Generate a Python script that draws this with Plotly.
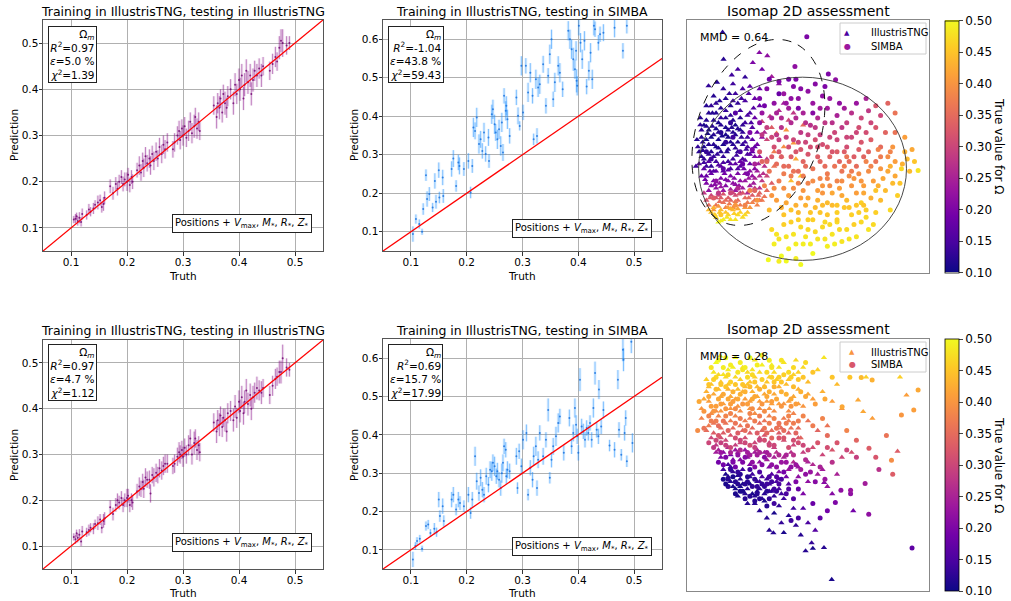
import plotly.graph_objects as go
import numpy as np

# ---------------- DATA ----------------
TNG_truth = [0.105,0.108,0.11,0.112,0.115,0.118,0.12,0.128,0.132,0.135,0.14,0.143,0.148,0.152,0.155,0.158,0.16,
             0.17,0.175,0.18,0.183,0.186,0.19,0.193,0.196,0.2,0.202,0.205,0.208,0.21,
             0.218,0.222,0.225,0.228,0.23,0.233,0.236,0.24,0.242,0.245,0.248,0.252,0.255,0.258,0.262,0.265,0.268,0.272,
             0.282,0.285,0.29,0.293,0.295,0.298,0.3,0.303,0.306,0.31,0.313,0.316,0.32,0.322,0.325,0.328,0.33,
             0.355,0.36,0.362,0.365,0.367,0.37,0.372,0.375,0.378,0.38,
             0.385,0.39,0.393,0.396,0.4,0.402,0.405,0.408,0.41,0.413,0.416,0.42,0.422,0.425,0.428,0.432,0.436,0.44,0.443,
             0.455,0.46,0.465,0.468,0.472,0.475,0.478,0.485,0.49]
A_pred = [0.118,0.12,0.125,0.115,0.122,0.113,0.13,0.128,0.14,0.135,0.142,0.15,0.155,0.16,0.145,0.152,0.165,
          0.19,0.175,0.195,0.185,0.2,0.21,0.195,0.205,0.2,0.215,0.193,0.21,0.2,
          0.225,0.235,0.22,0.245,0.23,0.255,0.24,0.25,0.235,0.26,0.245,0.265,0.25,0.275,0.26,0.28,0.27,0.285,
          0.27,0.285,0.3,0.31,0.29,0.315,0.3,0.32,0.295,0.31,0.33,0.305,0.32,0.34,0.315,0.33,0.31,
          0.365,0.34,0.37,0.36,0.38,0.35,0.39,0.37,0.36,0.385,
          0.4,0.37,0.41,0.39,0.42,0.4,0.43,0.38,0.41,0.44,0.415,0.43,0.39,0.42,0.44,0.43,0.445,0.43,0.45,
          0.44,0.455,0.47,0.46,0.49,0.505,0.5,0.495,0.5]
A_err = [0.008,0.01,0.008,0.01,0.012,0.01,0.012,0.01,0.012,0.01,0.012,0.01,0.015,0.012,0.012,0.015,0.014,
         0.015,0.014,0.015,0.015,0.015,0.015,0.016,0.015,0.02,0.015,0.016,0.015,0.016,
         0.016,0.02,0.018,0.018,0.02,0.02,0.018,0.02,0.02,0.018,0.02,0.02,0.018,0.02,0.02,0.02,0.02,0.02,
         0.018,0.02,0.02,0.022,0.02,0.02,0.022,0.02,0.02,0.022,0.02,0.022,0.025,0.02,0.022,0.02,0.02,
         0.02,0.025,0.022,0.025,0.02,0.022,0.02,0.025,0.022,0.022,
         0.022,0.025,0.025,0.022,0.025,0.025,0.025,0.025,0.025,0.025,0.025,0.025,0.025,0.025,0.022,0.025,0.022,0.025,0.02,
         0.02,0.022,0.022,0.02,0.025,0.025,0.03,0.02,0.015]
D_pred = [0.12,0.115,0.128,0.118,0.125,0.11,0.132,0.13,0.135,0.14,0.138,0.148,0.15,0.158,0.14,0.155,0.16,
          0.185,0.17,0.19,0.2,0.195,0.205,0.19,0.2,0.205,0.21,0.19,0.2,0.195,
          0.22,0.23,0.225,0.24,0.225,0.25,0.245,0.245,0.215,0.255,0.25,0.26,0.255,0.27,0.265,0.275,0.28,0.28,
          0.275,0.28,0.295,0.305,0.3,0.31,0.295,0.315,0.3,0.32,0.335,0.3,0.325,0.335,0.31,0.32,0.305,
          0.37,0.35,0.375,0.365,0.385,0.36,0.38,0.375,0.35,0.39,
          0.395,0.375,0.405,0.38,0.415,0.395,0.425,0.39,0.415,0.44,0.41,0.43,0.4,0.425,0.435,0.445,0.44,0.435,0.445,
          0.43,0.45,0.465,0.47,0.48,0.48,0.51,0.49,0.485]
D_err = A_err

B_truth = [0.1036,0.109,0.115,0.12,0.122,0.127,0.129,0.133,0.139,0.143,0.145,0.15,0.151,0.157,0.158,0.173,0.176,0.181,
           0.185,0.187,0.195,0.203,0.207,0.21,0.212,0.215,0.218,0.222,0.225,0.228,0.231,0.234,0.239,0.24,0.245,0.247,
           0.25,0.252,0.255,0.258,0.261,0.263,0.265,0.267,0.27,0.271,0.273,0.277,0.289,0.292,0.295,0.298,0.301,0.306,
           0.31,0.314,0.318,0.32,0.324,0.326,0.328,0.331,0.337,0.342,0.346,0.349,0.352,0.355,0.358,0.364,0.367,0.372,
           0.382,0.385,0.388,0.391,0.394,0.396,0.397,0.398,0.401,0.404,0.407,0.411,0.415,0.419,0.422,0.425,0.428,0.43,
           0.436,0.439,0.445,0.465,0.48,0.487]
B_pred = [0.094,0.133,0.12,0.1,0.159,0.247,0.185,0.198,0.163,0.232,0.178,0.26,0.189,0.241,0.193,0.263,0.29,0.219,
          0.28,0.271,0.263,0.284,0.202,0.271,0.371,0.362,0.397,0.328,0.34,0.31,0.358,0.302,0.345,0.284,0.405,0.418,
          0.379,0.358,0.34,0.366,0.323,0.384,0.306,0.453,0.414,0.427,0.392,0.349,0.449,0.401,0.375,0.531,0.41,0.531,
          0.462,0.513,0.453,0.34,0.496,0.349,0.475,0.483,0.535,0.427,0.505,0.561,0.6,0.444,0.488,0.531,0.513,0.47,
          0.622,0.6,0.574,0.548,0.522,0.57,0.492,0.479,0.635,0.591,0.548,0.596,0.477,0.518,0.565,0.496,0.635,0.626,
          0.591,0.613,0.617,0.63,0.57,0.635]
B_err = [0.02,0.012,0.012,0.008,0.015,0.015,0.02,0.018,0.012,0.02,0.018,0.02,0.015,0.02,0.018,0.02,0.022,0.015,
         0.02,0.022,0.018,0.02,0.015,0.018,0.025,0.022,0.025,0.025,0.022,0.02,0.025,0.02,0.022,0.018,0.025,0.025,
         0.025,0.022,0.025,0.025,0.025,0.025,0.022,0.02,0.025,0.025,0.025,0.02,0.02,0.022,0.012,0.025,0.02,0.02,
         0.025,0.025,0.02,0.015,0.025,0.02,0.025,0.025,0.022,0.02,0.02,0.025,0.025,0.02,0.025,0.025,0.025,0.02,
         0.025,0.025,0.025,0.03,0.025,0.025,0.03,0.025,0.025,0.025,0.025,0.025,0.02,0.025,0.025,0.025,0.025,0.02,
         0.02,0.02,0.022,0.025,0.02,0.02]

E_truth = [0.1036,0.108,0.111,0.116,0.12,0.127,0.131,0.135,0.142,0.146,0.15,0.152,0.157,0.159,0.173,0.176,0.181,0.185,
           0.188,0.195,0.203,0.207,0.21,0.215,0.218,0.222,0.225,0.228,0.231,0.235,0.239,0.242,0.245,0.247,0.25,0.253,
           0.255,0.258,0.261,0.263,0.265,0.267,0.27,0.271,0.273,0.277,0.289,0.291,0.294,0.298,0.301,0.307,0.31,0.314,
           0.318,0.32,0.324,0.326,0.328,0.331,0.337,0.342,0.346,0.349,0.352,0.355,0.36,0.364,0.367,0.374,0.384,0.388,
           0.391,0.394,0.396,0.398,0.4,0.403,0.406,0.409,0.412,0.415,0.418,0.421,0.424,0.427,0.43,0.433,0.436,0.437,
           0.441,0.445,0.456,0.465,0.471,0.473,0.477,0.48,0.481,0.483,0.485,0.487,0.495,0.497]
E_pred = [0.075,0.11,0.123,0.129,0.103,0.162,0.166,0.144,0.155,0.146,0.231,0.188,0.214,0.175,0.231,0.244,0.205,0.231,
          0.222,0.214,0.244,0.196,0.231,0.344,0.279,0.248,0.288,0.257,0.244,0.292,0.27,0.309,0.305,0.327,0.318,0.292,
          0.305,0.283,0.261,0.3,0.327,0.37,0.361,0.292,0.309,0.305,0.344,0.261,0.357,0.318,0.387,0.405,0.244,0.314,
          0.283,0.344,0.37,0.261,0.335,0.405,0.344,0.387,0.465,0.288,0.335,0.37,0.396,0.431,0.448,0.353,0.444,0.37,
          0.405,0.47,0.426,0.396,0.353,0.544,0.422,0.409,0.387,0.418,0.405,0.431,0.387,0.47,0.561,0.413,0.396,0.518,
          0.422,0.465,0.372,0.361,0.544,0.413,0.348,0.622,0.596,0.405,0.444,0.331,0.643,0.379]
E_err = [0.02,0.01,0.01,0.01,0.008,0.012,0.012,0.01,0.015,0.012,0.02,0.015,0.02,0.015,0.02,0.02,0.015,0.02,
         0.018,0.015,0.02,0.015,0.02,0.025,0.022,0.02,0.022,0.02,0.02,0.022,0.02,0.022,0.025,0.022,0.025,0.02,
         0.022,0.02,0.02,0.025,0.022,0.02,0.02,0.02,0.022,0.02,0.022,0.015,0.02,0.02,0.025,0.022,0.015,0.02,
         0.02,0.025,0.025,0.02,0.022,0.02,0.022,0.02,0.03,0.015,0.02,0.022,0.025,0.025,0.02,0.02,0.022,0.02,
         0.022,0.025,0.025,0.02,0.02,0.03,0.02,0.02,0.02,0.02,0.02,0.02,0.02,0.025,0.03,0.02,0.02,0.025,
         0.02,0.022,0.015,0.02,0.025,0.02,0.015,0.03,0.03,0.02,0.02,0.015,0.03,0.025]

# Isomap embeddings (arbitrary units): (x, y, true Omega_m)
TOP_TNG = [
    (14.7,99.3,.12),(15.1,88.2,.12),(27.2,86.8,.20),(29.9,90.9,.21),(33.2,89.6,.22),(8.9,77.2,.13),(12.4,78.7,.12),
    (18.5,81.7,.14),(24,80.8,.13),(5.5,61.1,.13),(4.1,55,.12),(3.7,44,.14),(21,84,.15),(31,84,.19),(26,77,.17),
    (35,81,.24),(38,78,.22),(30,76,.18),
    (6,48,.12),(7,52,.11),(6,56,.12),(8,44,.14),(9,59,.11),(10,50,.12),(11,63,.12),(12,46,.14),(13,55,.11),(14,68,.12),
    (15,42,.16),(16,60,.11),(17,51,.12),(18,65,.13),(19,47,.14),(20,57,.12),(21,70,.13),(22,44,.16),(23,53,.13),
    (24,62,.14),(25,49,.15),(26,66,.15),(9,66,.12),(12,70,.13),(16,72,.12),(20,74,.14),(7,61,.11),(11,57,.12),
    (15,48,.13),(19,53,.12),(23,58,.13),(14,50,.12),(18,43,.15),(21,50,.13),(25,56,.14),(10,44,.13),(13,62,.11),
    (17,56,.11),(22,64,.12),(8,55,.11),(27,60,.16),(24,71,.15),(28,52,.17),(12,52,.11),(16,64,.12),(20,61,.11),
    (5,50,.12),(26,45,.18),(18,69,.12),(10,69,.13),(7,47,.13),(9,53,.12),(11,48,.13),(13,58,.12),(15,53,.11),
    (17,46,.14),(19,58,.12),(21,54,.12),(23,47,.15),(25,52,.15),(27,55,.17),(14,64,.13),(12,66,.12),(8,63,.12),
    (6,59,.13),(16,67,.13),(19,71,.14),(22,67,.14),(28,64,.18),(29,58,.19),(4.5,52,.13),(30,69,.18),
    (6.5,50.5,.12),(8.5,57.5,.11),(10.5,60.5,.12),(12.5,49,.13),(14.5,56.5,.11),(16.5,50,.12),(18.5,60,.12),
    (20.5,48.5,.14),(22.5,56,.13),(24.5,51,.14),(26.5,62,.15),(10.5,66,.12),(13.5,71,.12),(17.5,74,.13),
    (22.5,72,.14),(8,69,.12),(5.5,64,.12),(27.5,68,.16),(25.5,74,.16),(11,73,.12),(15,76,.13),(19,78,.14),
    (23,76,.15),(28,72,.18),
    (7,45.5,.14),(9,49,.13),(11,53,.12),(13,51.5,.12),(15,45.5,.15),(17,59,.12),(19,63,.12),(21,59.5,.12),
    (23,61,.13),(25,65,.15),(27,50,.17),(29,53,.19),(31,56,.22),(6.5,54,.12),(8,60.5,.12),(10,56,.11),
    (12,59.5,.11),(14,61,.12),(16,57,.11),(18,54,.12),(20,51.5,.13),(22,59,.12),(24,54,.14),(26,49,.17),
    (6,40,.18),(8,37,.2),(10,41,.18),(12,35,.22),(14,39,.2),(16,36,.21),(18,40,.2),(20,34,.23),(22,38,.22),(24,41,.21),
    (26,36,.24),(28,39,.25),(30,35,.27),(9,34,.22),(13,33,.24),(17,38,.21),(21,41,.2),(25,33,.26),(29,42,.24),
    (11,38,.2),(15,34,.23),(19,37,.22),(23,35,.24),(27,40,.23),(7,43,.17),(31,38,.28),(32,44,.27),(14,44,.17),
    (22,46,.18),(30,48,.22),(5,45,.16),(9,46,.16),(18,45,.17),(26,42,.22),(33,40,.3),
    (7.5,38.5,.19),(11.5,36.5,.21),(15.5,41,.19),(19.5,39,.21),(23.5,43,.19),(27.5,37,.24),(31.5,41,.27),
    (9.5,42,.18),(13.5,37,.22),(21.5,36,.23),(25.5,39,.23),(29.5,45,.24),(33,47,.28),(12,42,.18),(20,45,.17),
    (28,48,.2),
    (11,42,.16),(13,44.5,.16),(17,42.5,.17),(21,43,.16),(24,46.5,.17),(28,43,.21),(30,40,.26),(8,40,.18),
    (16,38.5,.2),(20,36.5,.22),(24,38,.23),(10,36,.21),(14,35.5,.23),(18,34.5,.25),(22,33,.27),(26,34,.29),
    (28,35,.28),
    (8,30,.32),(10,32,.3),(12,28,.36),(14,31,.33),(16,27,.38),(18,30,.34),(20,32,.31),(22,28,.37),(24,31,.35),
    (26,27,.4),(28,30,.36),(30,33,.34),(11,26,.4),(15,29,.36),(19,27,.39),(23,33,.32),(27,32,.33),(9,28,.35),
    (13,32,.31),(17,31,.33),(21,30,.35),(25,29,.37),(29,28,.38),(31,30,.37),(33,34,.35),(7,33,.28),(35,37,.33),
    (9.5,31,.33),(13.5,29.5,.35),(17.5,28.5,.37),(21.5,32.5,.32),(25.5,31,.35),(29.5,32,.34),(32,31.5,.36),
    (15,32.5,.32),(19,33,.3),(27,29,.38),(30,30,.36),(12,31,.32),(16,30,.35),(20,29.5,.37),(24,27,.41),
    (17,27,.41),(13,27.5,.4),(21,26.5,.42),
    (10,25,.45),(12,23,.47),(14,26,.44),(15,22,.49),(17,24,.46),(19,26,.44),(20,22,.48),(22,25,.46),(11,27,.43),
    (13,21,.5),(16,25,.45),(18,22,.48),(21,24,.47),(23,23,.47),(9,26,.44),(25,25,.45),
    (11.5,24,.46),(13.5,25,.45),(16.5,23,.48),(19.5,24.5,.46),(24,24,.47),(18,26.5,.43),(14,21.5,.49),
    (37,57.7,.38),(41,59,.4),(34.3,64.6,.28),(31,62.5,.3),(44,53.6,.4),(39,48,.42),(36,44,.36),(40,52,.39),
    (35,60,.33),(42,63,.3),(38,67,.26),(33,55,.3),(45,47,.42),(47,40,.45),(43,38,.44),(36,50,.37),(32,58,.26),
    (40,70,.24),(44,66,.28),(48,61,.35),
]
TOP_SIMBA = [
    (49.5,97.5,.2),(44.6,85.2,.22),(58.4,82.1,.2),(61.4,79.7,.22),
    (30,72,.2),(33,76,.21),(36,70,.22),(38,79,.2),(40,74,.23),(42,68,.24),(44,77,.21),(46,72,.22),(48,66,.25),
    (50,75,.22),(52,70,.23),(54,64,.26),(56,73,.22),(58,68,.24),(60,62,.27),(35,64,.25),(39,60,.27),(43,62,.26),
    (47,58,.28),(51,61,.27),(55,57,.29),(59,56,.3),(62,65,.25),(64,60,.28),(34,80,.19),(45,80,.2),(53,78,.21),
    (57,77,.2),(31,66,.23),(41,56,.29),(49,54,.3),(37,57,.28),(32,69,.19),(46,68,.2),(52,66,.21),(38,74,.18),(42,80,.19),
    (31,57,.28),(35,56,.3),(39,64,.26),(45,64,.26),(49,62,.27),(53,60,.28),(57,62,.28),(61,58,.3),(33,60,.29),
    (43,72,.22),(47,76,.21),(55,68,.24),(37,66,.25),(41,70,.23),(59,72,.23),
    (65,68,.24),(68,66,.27),(70,70,.23),(72,64,.3),(75,67,.28),(78,69,.32),(80,65,.3),(66,62,.29),(71,60,.31),
    (76,62,.3),(83,70,.34),(86,66,.36),(63,70,.22),(74,72,.25),
    (30,50,.32),(33,46,.34),(36,52,.31),(39,48,.33),(42,44,.35),(45,50,.32),(48,46,.34),(51,52,.31),(54,48,.33),
    (57,44,.35),(60,50,.32),(63,46,.34),(66,52,.31),(69,48,.33),(72,54,.32),(75,50,.34),(78,46,.36),(34,42,.36),
    (40,41,.37),(46,42,.35),(52,43,.36),(58,41,.37),(64,42,.36),(70,44,.35),(76,55,.33),(62,55,.3),(56,53,.31),
    (44,55,.3),(38,55,.29),(68,56,.3),(80,52,.35),(50,49,.32),
    (31,46,.34),(37,45,.35),(43,48,.33),(49,44,.35),(55,46,.34),(61,44,.36),(67,46,.35),(73,48,.34),(35,48,.33),
    (47,51,.32),(53,55,.31),(59,48,.34),(65,50,.33),(71,51,.33),
    (40,44,.35),(44,42,.36),(48,40,.37),(52,38,.39),(56,36,.4),(60,33,.42),(64,38,.39),(68,42,.37),(72,38,.4),
    (76,44,.38),(80,48,.37),(84,50,.38),(86,46,.41),(90,50,.43),(94,46,.45),(38,50,.32),(42,52,.31),(46,54,.3),
    (50,57,.29),(54,52,.31),(58,52,.32),(62,50,.33),(66,56,.3),(70,58,.3),(74,58,.31),(78,60,.32),(82,58,.34),
    (86,58,.36),
    (62,38,.38),(65,44,.37),(68,36,.4),(71,41,.39),(74,46,.38),(77,38,.41),(80,43,.4),(83,48,.39),(86,40,.42),
    (89,45,.43),(92,42,.44),(64,32,.42),(70,33,.41),(76,31,.43),(82,34,.44),(88,37,.45),(66,48,.36),(79,51,.38),
    (85,52,.4),(90,56,.41),(93,51,.42),(73,36,.41),(81,39,.42),(87,32,.46),(60,28,.44),(67,27,.45),(95.5,42.3,.48),
    (88.6,43,.47),(84,44,.43),(78,34,.45),(72,29,.46),
    (63,35,.41),(69,39,.4),(75,42,.39),(79,36,.43),(85,37,.44),(83,42,.42),(91,47,.44),(67,40,.39),(73,33,.42),
    (32,36,.38),(35,32,.4),(38,38,.37),(41,29,.42),(44,35,.39),(47,31,.41),(50,37,.38),(53,27,.44),(56,33,.4),
    (59,36,.39),(34,26,.44),(40,24,.45),(46,25,.44),(52,22,.46),(58,24,.45),(62,21,.47),(37,30,.41),(43,40,.37),
    (49,28,.43),(55,39,.38),(29,30,.4),(26,34,.38),
    (36,35,.39),(42,32,.41),(48,34,.4),(54,30,.43),(58,29,.44),(39,27,.43),(45,28,.43),(51,25,.45),(57,21,.47),
    (40,35,.39),(46,37,.38),(50,31,.42),(54,34,.41),(58,39,.38),(62,28,.45),(66,30,.44),(70,28,.45),(74,26,.46),
    (62,25,.46),(56,28,.44),(50,22,.46),
    (35,18,.47),(38,14,.48),(40,20,.46),(42,10,.49),(44,16,.48),(46,22,.46),(48,12,.49),(50,18,.47),(52,8,.5),
    (54,14,.48),(56,19,.47),(58,11,.49),(60,16,.48),(62,22,.46),(64,13,.48),(66,18,.47),(68,24,.46),(70,15,.48),
    (72,21,.47),(75,18,.48),(78,25,.46),(36,12,.49),(39,7,.5),(41,5,.5),(45,6,.49),(43,26,.45),(47,3.5,.5),
    (55,25,.45),(65,27,.45),(73,28,.45),(80,30,.44),(77,20,.47),(33.6,5.5,.5),(38,4.8,.49),(84,26,.47),
    (37,16,.48),(41,15,.48),(45,12,.49),(49,15,.48),(53,17,.47),(57,14,.48),(61,12,.49),(63,18,.47),(67,14,.48),
    (51,12,.49),(43,21,.46),(47,19,.47),(59,20,.47),(69,20,.46),(71,25,.46),(74,23,.47),
    (10,47,.14),(14,58,.12),(18,62,.13),(22,50,.15),(25,41,.2),(12,38,.22),(18,33,.3),(24,28,.38),(14,24,.45),
    (28,45,.25),(20,66,.16),(26,58,.2),(30,62,.22),(8,50,.13),(16,54,.13),(28,34,.34),(20,28,.4),(11,31,.33),
    (15,43,.17),(19,56,.14),(23,45,.18),(27,51,.2),(13,33,.28),(21,35,.26),
]
BOT_TNG = [
    (59.8,4.7,.11),(49,16.5,.12),(52,17.5,.11),(56.6,17.8,.12),(34,25,.12),(35.7,23.9,.12),(51.5,19.8,.13),
    (68.7,33,.19),(56.7,44.6,.21),(87,57.5,.33),(90.7,80.6,.41),(72.8,73.8,.42),(76.6,71,.41),(70.7,78.6,.42),
    (88,88,.46),(56.6,96,.48),(13.7,96.7,.48),(74,88,.46),(62,85,.44),
    (30,33,.12),(33,30,.12),(36,32,.11),(39,28,.13),(42,31,.12),(45,27,.13),(47,23,.12),(40,24,.11),(44,34,.14),
    (38,35,.13),(50,28,.15),(53,25,.16),(48,34,.16),(28,36,.12),(32,37,.11),
    (16,48,.11),(18,45,.12),(20,42,.11),(22,46,.12),(24,40,.12),(26,44,.11),(28,39,.12),(30,42,.13),(32,40,.12),
    (34,44,.14),(36,39,.13),(38,42,.15),(19,49,.13),(23,50,.14),(27,48,.14),(31,47,.15),(35,48,.16),(21,39,.11),
    (25,36,.12),(29,45,.13),(17,52,.15),(40,38,.14),(42,44,.16),
    (17,47,.12),(21,47.5,.12),(25,42,.12),(29,41,.12),(33,46,.14),(37,45,.15),(23,44,.11),(27,40,.11),(31,38,.12),
    (35,41,.13),(19,43,.11),(39,40,.14),
    (15,50,.14),(18,51,.14),(22,43,.11),(26,47,.13),(30,45,.14),(34,41,.13),(38,46,.17),(41,47,.19),
    (14,55,.2),(18,56,.19),(22,54,.21),(26,52,.2),(30,53,.22),(34,51,.21),(38,49,.2),(42,50,.23),(46,47,.22),
    (50,45,.22),(54,48,.24),(58,43,.23),(20,58,.23),(28,57,.24),(36,55,.25),(44,53,.26),(52,52,.26),(60,40,.21),
    (48,40,.2),(62,48,.25),
    (15,57,.21),(19,54,.2),(24,58,.23),(32,57,.24),(40,55,.25),(46,51,.23),(50,53,.25),(56,50,.24),(12,57,.24),
    (13,58,.25),(17,59,.26),(21,57,.24),(25,55,.22),(29,58,.26),(33,54,.24),(37,57,.27),(43,57,.27),
    (12,60,.28),(16,62,.3),(20,60,.29),(24,63,.31),(28,61,.3),(32,64,.32),(36,59,.29),(40,62,.31),(44,60,.3),
    (48,57,.29),(52,59,.31),(56,56,.3),(60,58,.32),(64,55,.3),(68,57,.31),(10,63,.3),(42,65,.33),
    (14,63,.31),(18,64,.32),(22,61,.3),(26,65,.33),(30,63,.31),(34,61,.3),(38,65,.33),(46,63,.32),
    (11,65,.33),(15,65,.33),(19,67,.35),(23,66,.34),(27,67,.35),(31,66,.34),(35,66,.35),(39,67,.35),(43,67,.36),
    (8,66,.35),(11,69,.36),(14,67,.35),(18,70,.37),(22,68,.36),(26,71,.37),(30,69,.35),(34,72,.38),(38,68,.36),
    (42,70,.37),(46,67,.35),(50,70,.36),(54,66,.34),(58,68,.36),(6,71,.38),(47,63,.34),
    (9,68,.37),(13,72,.38),(16,69,.36),(20,72,.38),(24,70,.37),(28,73,.39),(32,70,.36),(36,74,.39),(40,71,.37),
    (44,73,.38),
    (10,73,.39),(14,74,.4),(18,75,.4),(22,74,.39),(26,75,.4),(30,78,.41),(34,75,.4),(38,77,.41),(42,74,.39),
    (46,77,.41),
    (6,75,.4),(9,78,.41),(12,74,.39),(15,77,.41),(18,80,.42),(21,76,.4),(24,79,.41),(27,82,.43),(30,75,.39),
    (33,78,.41),(36,81,.42),(40,77,.4),(44,80,.42),(48,76,.4),(52,79,.41),(56,82,.43),(60,78,.41),(64,75,.4),
    (8,82,.43),(38,84,.43),
    (7,79,.42),(11,81,.42),(14,80,.42),(17,83,.43),(20,79,.41),(23,82,.43),(26,78,.41),(29,80,.42),(32,81,.42),
    (35,77,.41),(42,78,.41),(46,83,.43),(50,81,.42),
    (9,84,.44),(13,83,.44),(17,85,.45),(21,83,.44),(25,85,.45),(29,84,.44),(33,86,.45),(37,87,.46),(41,85,.44),
    (8,87,.46),(11,90,.48),(14,86,.45),(17,91,.49),(20,88,.47),(23,92,.48),(26,86,.45),(30,90,.47),(34,88,.46),
    (38,92,.48),(42,87,.45),(46,90,.46),(50,86,.44),(12,94,.5),(28,95,.48),(45,95,.47),(32,84,.44),(24,84,.44),
    (10,85,.45),(13,89,.47),(16,88,.47),(19,92,.49),(22,87,.46),(25,90,.47),(28,88,.46),(31,93,.49),(36,90,.47),
    (40,94,.48),(44,89,.46),(48,92,.47),(54,91,.46),(20,96,.5),(15,89,.48),(27,91,.48),(35,93,.49),
]
BOT_SIMBA = [
    (93,17.7,.17),(4.4,66,.39),(49,94,.47),(79,93,.46),(95.5,82.7,.42),(93.7,74.5,.41),(88.6,72.4,.4),(84.5,53.8,.39),
    (82.4,64,.36),(79.3,50,.27),(75.2,58.7,.33),(73.6,44.2,.24),(75.1,31.6,.22),(67.6,40,.22),(67.6,41.5,.23),
    (63.6,41.5,.22),(61.3,36.4,.2),(64.1,75.8,.42),(67.3,88,.45),(72,87.9,.44),(76.5,86.8,.43),(60,88,.45),
    (66,66,.38),(70,62,.34),(78,55,.32),(85,48,.33),
    (15,46,.11),(17,43,.12),(19,47,.11),(21,44,.12),(23,41,.11),(25,47,.12),(27,43,.13),(29,40,.12),(31,44,.13),
    (33,41,.12),(35,45,.14),(37,41,.13),(39,46,.15),(18,50,.13),(22,48,.12),(26,50,.14),(30,49,.15),(34,47,.15),
    (20,40,.11),(24,38,.12),(28,37,.12),(41,40,.15),(36,36,.14),(44,38,.16),(46,42,.18),(33,35,.12),(52,36,.18),
    (55,30,.17),(58,33,.19),(46,30,.15),(43,29,.14),
    (16,44,.11),(20,45,.12),(24,44,.12),(28,46,.13),(32,43,.13),(36,42,.14),(26,39,.12),(30,38,.12),(38,44,.15),
    (42,42,.16),(22,41,.11),(34,38,.13),
    (17,46,.12),(21,49,.13),(25,45,.12),(29,43,.13),(33,44,.14),(37,47,.16),(40,49,.19),
    (13,53,.19),(16,55,.2),(19,53,.2),(24,55,.21),(27,53,.22),(32,55,.21),(35,52,.22),(39,53,.23),(43,51,.22),
    (47,50,.24),(51,49,.23),(55,51,.25),(57,46,.23),(21,56,.22),(29,56,.24),(41,56,.25),(49,54,.26),(53,45,.21),
    (45,45,.2),(60,53,.27),
    (15,52,.19),(20,51,.19),(23,53,.2),(28,51,.21),(31,52,.21),(37,51,.22),(41,53,.23),(45,52,.23),(49,48,.22),
    (33,57,.24),(25,57,.24),
    (14,57,.23),(18,57,.25),(22,58,.26),(26,56,.24),(30,57,.25),(34,56,.25),(38,56,.26),(44,56,.27),
    (11,59,.28),(14,61,.29),(18,59,.3),(22,62,.3),(26,60,.31),(30,62,.3),(34,60,.3),(38,63,.32),(42,59,.31),
    (46,61,.31),(50,58,.3),(54,61,.32),(58,59,.31),(62,61,.32),(66,58,.3),(70,55,.29),(9,61,.3),
    (12,62,.3),(16,60,.29),(20,63,.31),(24,61,.3),(28,59,.29),(32,62,.31),(36,60,.3),(40,63,.32),(44,62,.31),
    (48,60,.3),
    (13,64,.32),(17,66,.34),(21,65,.33),(25,68,.36),(29,65,.33),(33,65,.34),(37,67,.36),(41,69,.37),(45,65,.34),
    (7,67,.36),(10,70,.37),(13,68,.35),(16,72,.38),(20,69,.36),(24,66,.35),(28,70,.37),(32,67,.36),(36,71,.38),
    (40,66,.35),(44,69,.37),(48,72,.38),(52,68,.37),(56,71,.38),(35,63,.34),(58,64,.35),
    (9,72,.38),(12,70,.37),(15,70,.36),(18,73,.38),(22,71,.37),(26,73,.38),(30,72,.37),(34,69,.37),(38,69,.36),
    (42,72,.38),(46,70,.37),
    (11,74,.4),(14,77,.41),(17,79,.42),(20,75,.39),(23,77,.4),(27,75,.39),(32,74,.39),(35,78,.41),(39,76,.4),
    (43,76,.4),
    (7,74,.4),(10,76,.41),(13,79,.42),(16,75,.4),(19,78,.41),(22,81,.43),(25,77,.41),(28,80,.42),(31,77,.4),
    (34,82,.43),(37,79,.42),(41,81,.43),(45,77,.41),(49,80,.42),(53,77,.41),(57,79,.42),(5,78,.42),(26,84,.44),
    (44,84,.44),
    (9,80,.42),(12,76,.41),(15,81,.42),(18,77,.41),(21,79,.42),(24,82,.43),(27,79,.42),(30,83,.43),(33,80,.42),
    (36,84,.43),(39,82,.43),(43,79,.42),(47,82,.43),
    (12,83,.44),(16,84,.45),(19,82,.43),(23,85,.45),(28,86,.45),(32,84,.44),(35,88,.46),(39,86,.45),(43,88,.46),
    (9,85,.45),(12,88,.47),(15,92,.49),(18,86,.46),(21,90,.48),(25,88,.47),(29,93,.49),(33,90,.47),(36,86,.45),
    (40,89,.46),(44,92,.47),(48,88,.45),(52,90,.45),(16,96,.5),(31,97,.49),(39,95,.48),(10,92,.48),(22,94,.49),
    (11,87,.46),(14,85,.45),(17,89,.47),(20,85,.45),(23,91,.48),(27,89,.47),(31,87,.46),(35,92,.48),(38,88,.46),
    (42,90,.47),(46,87,.45),(13,95,.5),(26,96,.5),(34,95,.49),(18,93,.49),(24,92,.49),
]

STATS_A = ["0.97", "5.0", "1.39"]
STATS_B = ["-1.04", "43.8", "59.43"]
STATS_D = ["0.97", "4.7", "1.12"]
STATS_E = ["0.69", "15.7", "17.99"]
MMD_TOP, MMD_BOT = "0.64", "0.28"
TICKS = [0.1, 0.2, 0.3, 0.4, 0.5]
TICKS_B = [0.1, 0.2, 0.3, 0.4, 0.5, 0.6]
CB_TICKS = [0.10, 0.15, 0.20, 0.25, 0.30, 0.35, 0.40, 0.45, 0.50]
LEG_NAMES = ["IllustrisTNG", "SIMBA"]

# ---------------- FIGURE ----------------
W, H = 1011, 601
def px(x): return x / W
def py(y): return 1 - y / H

FONT = "DejaVu Sans"
fig = go.Figure()

def err_panel(ax, truth, pred, err, col_line, col_band, col_pt):
    xa, ya = ("x" + ax, "y" + ax) if ax != "1" else ("x", "y")
    fig.add_trace(go.Scatter(x=truth, y=pred, mode="markers", xaxis=xa, yaxis=ya, showlegend=False,
                             marker=dict(size=0.1, color=col_band),
                             error_y=dict(type="data", array=err, visible=True, thickness=3, width=0, color=col_band)))
    fig.add_trace(go.Scatter(x=truth, y=pred, mode="markers", xaxis=xa, yaxis=ya, showlegend=False,
                             marker=dict(size=2, color=col_pt),
                             error_y=dict(type="data", array=err, visible=True, thickness=1, width=0, color=col_line)))
    fig.add_trace(go.Scatter(x=[0.05, 0.55], y=[0.05, 0.55], mode="lines", xaxis=xa, yaxis=ya,
                             showlegend=False, line=dict(color="red", width=1.3)))

PUR_L, PUR_B, PUR_P = "rgba(128,0,128,0.45)", "rgba(128,0,128,0.09)", "rgba(110,0,110,0.8)"
BLU_L, BLU_B, BLU_P = "rgba(30,144,255,0.5)", "rgba(30,144,255,0.12)", "rgba(20,110,220,0.8)"
err_panel("1", TNG_truth, A_pred, A_err, PUR_L, PUR_B, PUR_P)
err_panel("2", B_truth, B_pred, B_err, BLU_L, BLU_B, BLU_P)
err_panel("4", TNG_truth, D_pred, D_err, PUR_L, PUR_B, PUR_P)
err_panel("5", E_truth, E_pred, E_err, BLU_L, BLU_B, BLU_P)

def cbar(yc):
    return dict(x=px(945), xanchor="left", xpad=0, ypad=0, y=py(yc), yanchor="middle",
                len=252 / H, lenmode="fraction", thickness=14, thicknessmode="pixels",
                outlinewidth=0.8, outlinecolor="black", tickvals=CB_TICKS,
                ticktext=["%.2f" % v for v in CB_TICKS], ticks="outside", ticklen=4,
                tickfont=dict(size=12, family=FONT, color="black"))

def iso_panel(ax, tng, sim, yc):
    xa, ya = "x" + ax, "y" + ax
    fig.add_trace(go.Scatter(x=[p[0] for p in tng], y=[p[1] for p in tng], mode="markers",
                             xaxis=xa, yaxis=ya, showlegend=False,
                             marker=dict(symbol="triangle-up", size=5.5, color=[p[2] for p in tng],
                                         colorscale="Plasma", cmin=0.1, cmax=0.5, line=dict(width=0))))
    fig.add_trace(go.Scatter(x=[p[0] for p in sim], y=[p[1] for p in sim], mode="markers",
                             xaxis=xa, yaxis=ya, showlegend=False,
                             marker=dict(symbol="circle", size=5, color=[p[2] for p in sim],
                                         colorscale="Plasma", cmin=0.1, cmax=0.5, line=dict(width=0),
                                         showscale=True, colorbar=cbar(yc))))

iso_panel("3", TOP_TNG, TOP_SIMBA, 146.5)
iso_panel("6", BOT_TNG, BOT_SIMBA, 465)

# ellipses in top isomap
shapes = [dict(type="circle", xref="x3", yref="y3", x0=4.8, x1=90.7, y0=5.2, y1=80.8,
               line=dict(color="#333333", width=0.9))]
cx, cy, ea, eb, ang = 29.5, 58.0, 39.8, 25.4, np.deg2rad(70)
t = np.linspace(0, 2 * np.pi, 120)
ex = cx + ea * np.cos(t) * np.cos(ang) - eb * np.sin(t) * np.sin(ang)
ey = cy + ea * np.cos(t) * np.sin(ang) + eb * np.sin(t) * np.cos(ang)
path = "M " + " L ".join("%.2f,%.2f" % (a, b) for a, b in zip(ex, ey)) + " Z"
shapes.append(dict(type="path", xref="x3", yref="y3", path=path,
                   line=dict(color="#111111", width=1, dash="dash")))

# legend frames (matplotlib style)
for (y0, y1) in [(23, 54), (342, 372)]:
    shapes.append(dict(type="rect", xref="paper", yref="paper", x0=px(840), x1=px(926), y0=py(y1), y1=py(y0),
                       line=dict(color="#cccccc", width=1), fillcolor="rgba(255,255,255,0.8)", layer="above"))

# axes
dom = {
    "1": ([43, 323], [20, 251]), "2": ([383, 662], [20, 251]), "3": ([687, 929], [20, 273]),
    "4": ([43, 323], [340, 569]), "5": ([383, 662], [339, 569]), "6": ([687, 929], [339, 591]),
}
lay = {}
for k, (xd, yd) in dom.items():
    xn = "xaxis" if k == "1" else "xaxis" + k
    yn = "yaxis" if k == "1" else "yaxis" + k
    anchor_x = "y" if k == "1" else "y" + k
    anchor_y = "x" if k == "1" else "x" + k
    xdom = [px(xd[0]), px(xd[1])]
    ydom = [py(yd[1]), py(yd[0])]
    if k in ("3", "6"):
        yr = [0, 104.4] if k == "3" else [0, 103.7]
        common = dict(showticklabels=False, showgrid=False, zeroline=False, showline=True, mirror=True,
                      linecolor="#888888", linewidth=1, ticks="")
        lay[xn] = dict(domain=xdom, anchor=anchor_x, range=[0, 100], **common)
        lay[yn] = dict(domain=ydom, anchor=anchor_y, range=yr, **common)
    else:
        yt = TICKS_B if k in ("2", "5") else TICKS
        yr = [0.05, 0.65] if k in ("2", "5") else [0.05, 0.55]
        common = dict(showgrid=True, gridcolor="#b0b0b0", gridwidth=0.8, zeroline=False, showline=True,
                      mirror=True, linecolor="#555555", linewidth=1, ticks="outside", ticklen=3.5,
                      tickcolor="#333333", tickfont=dict(size=10.5, family=FONT, color="black"),
                      ticklabelstandoff=-2)
        lay[xn] = dict(domain=xdom, anchor=anchor_x, range=[0.05, 0.55], tickvals=TICKS,
                       ticktext=["%.1f" % v for v in TICKS], **common)
        lay[yn] = dict(domain=ydom, anchor=anchor_y, range=yr, tickvals=yt,
                       ticktext=["%.1f" % v for v in yt], **common)

ann = []
def A(x, y, text, size=10.5, **kw):
    d = dict(x=px(x), y=py(y), xref="paper", yref="paper", text=text, showarrow=False,
             xanchor="center", yanchor="middle", font=dict(size=size, family=FONT, color="black"))
    d.update(kw)
    ann.append(d)

T1 = "Training in IllustrisTNG, testing in IllustrisTNG"
T2 = "Training in IllustrisTNG, testing in SIMBA"
for xc, yt, txt in [(183, 12, T1), (522, 12, T2), (183, 330, T1), (522, 330, T2)]:
    A(xc, yt, txt, size=12.5)
A(808, 11, "Isomap 2D assessment", size=14)
A(808, 329, "Isomap 2D assessment", size=14)
for xc, yc in [(183, 276), (522, 276), (183, 593), (522, 593)]:
    A(xc, yc, "Truth", size=10.5)
for xc, yc in [(14, 135), (354, 135), (14, 455), (354, 455)]:
    A(xc, yc, "Prediction", size=10.5, textangle=-90)

def stat_txt(s):
    return ("Ω<sub><i>m</i></sub><br><i>R</i><sup>2</sup>=%s<br><i>ε</i>=%s %%<br><i>χ</i><sup>2</sup>=%s"
            % (s[0], s[1], s[2]))
for (x0, y0), s in [((48, 26), STATS_A), ((388, 26), STATS_B), ((48, 344), STATS_D), ((388, 344), STATS_E)]:
    A(x0, y0, stat_txt(s), size=10.5, xanchor="left", yanchor="top", align="right",
      bordercolor="#222222", borderwidth=1, borderpad=1, bgcolor="white")

POS = "Positions + <i>V</i><sub>max</sub>, <i>M</i><sub>*</sub>, <i>R</i><sub>*</sub>, <i>Z</i><sub>*</sub>"
for x1, y1 in [(312, 233), (652, 238), (312, 552), (652, 556)]:
    A(x1, y1, POS, size=10, xanchor="right", yanchor="bottom", bordercolor="#222222",
      borderwidth=1, borderpad=2, bgcolor="white")

A(698, 38, "MMD = " + MMD_TOP, size=11, xanchor="left")
A(698, 356, "MMD = " + MMD_BOT, size=11, xanchor="left")
A(999, 146, "True value for Ω", size=12, textangle=90)
A(999, 465, "True value for Ω", size=12, textangle=90)

# legend entries
for (ya, yb, mx, ct, cs) in [(33, 46, 847, "#4c02a1", "#9c179e"), (352, 364, 852, "#f89441", "#d8576b")]:
    A(mx, ya, "▲", size=7, font=dict(size=7, color=ct, family=FONT))
    A(mx, yb, "●", size=7, font=dict(size=8, color=cs, family=FONT))
    A(869, ya, LEG_NAMES[0], size=10, xanchor="left")
    A(869, yb, LEG_NAMES[1], size=10, xanchor="left")

fig.update_layout(
    width=W, height=H, margin=dict(l=0, r=0, t=0, b=0),
    paper_bgcolor="white", plot_bgcolor="white",
    font=dict(family=FONT, color="black"),
    annotations=ann, shapes=shapes, showlegend=False,
    **lay,
)
fig.write_html("out.html", config={"displayModeBar": False},
               post_script="document.body.style.margin='0';document.body.style.padding='0';")
